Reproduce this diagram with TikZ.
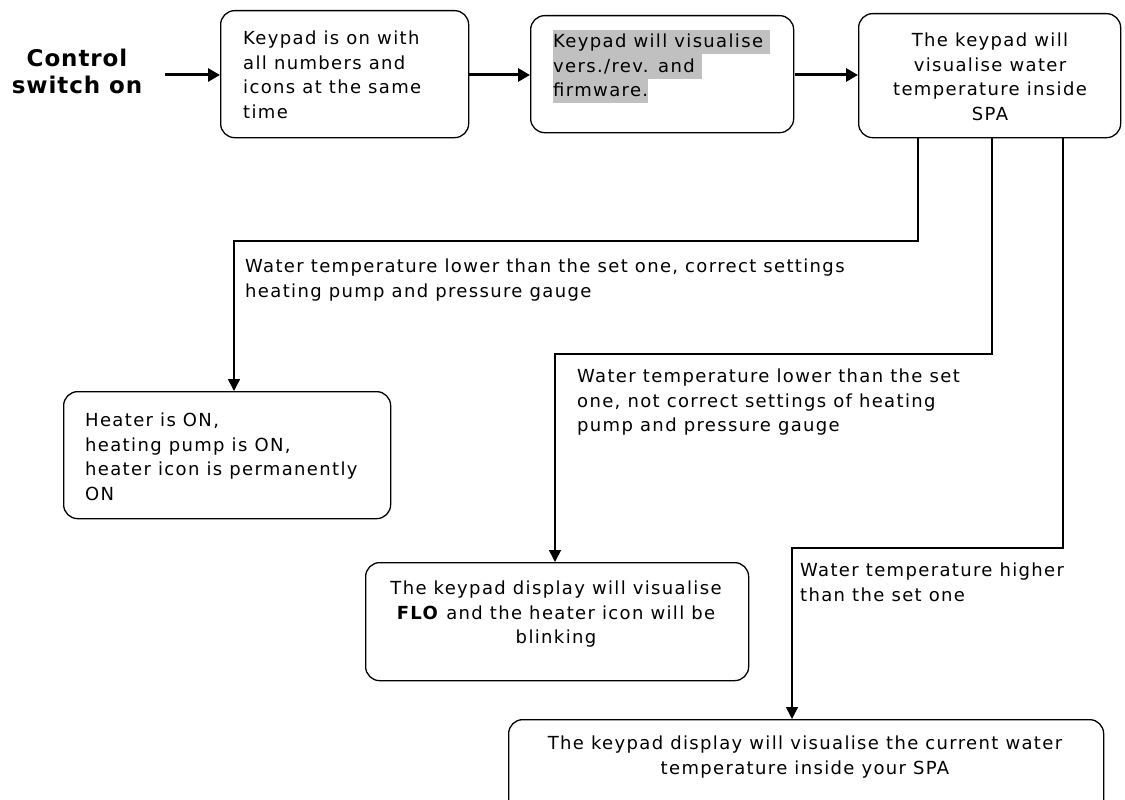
\documentclass[tikz,border=0pt]{standalone}
\usepackage{fontspec}
\setmainfont{DejaVu Sans}[LetterSpace=7.5]
\newfontfamily\ctrlfont{DejaVu Sans Bold}[LetterSpace=4]
\usetikzlibrary{arrows.meta}
\definecolor{hlgray}{HTML}{C0C0C0}
\newcommand\hlline[1]{{\setlength{\fboxsep}{0pt}\colorbox{hlgray}{\rule[-6.5pt]{0pt}{24.5pt}#1}}}
\tikzset{
  box/.style={draw, line width=1.3pt, rounded corners=14pt, anchor=north west, inner sep=0pt},
  txt/.style={inner sep=0pt, font=\fontsize{18}{24.5}\selectfont},
  bigarrow/.style={line width=3pt, -{Triangle[length=12pt,width=13pt]}},
  branch/.style={line width=1.6pt, -{Triangle[length=12pt,width=12pt]}},
}
\begin{document}
\begin{tikzpicture}[x=1pt,y=-1pt]
\useasboundingbox (0,0) rectangle (1125,800);
\clip (0,0) rectangle (1125,800);

% boxes
\node[box, minimum width=248pt, minimum height=127pt] (b1) at (220,10) {};
\node[box, minimum width=263pt, minimum height=117pt] (b2) at (530,15) {};
\node[box, minimum width=262pt, minimum height=124pt] (b3) at (858,13) {};
\node[box, minimum width=327pt, minimum height=127pt] (b4) at (63,391) {};
\node[box, minimum width=383pt, minimum height=118pt] (b5) at (365,562) {};
\node[box, minimum width=595pt, minimum height=120pt] (b6) at (508,719) {};

% texts
\node[inner sep=0pt, align=center, anchor=north, font=\ctrlfont\fontsize{23}{27}\selectfont] (ctrl) at (77,49)
  {Control\\switch on};
\node[txt, align=left, anchor=north west] (t1) at (243,31)
  {Keypad is on with\\all numbers and\\icons at the same\\time};
\node[txt, align=left, anchor=north west] (t2) at (553,29.5)
  {\hlline{Keypad will visualise }\\\hlline{vers./rev. and }\\\hlline{firmware.}};
\node[txt, align=center, anchor=north] (t3) at (990,33)
  {The keypad will\\visualise water\\temperature inside\\SPA};
\node[txt, align=left, anchor=north west] (t4) at (85,413)
  {Heater is ON,\\heating pump is ON,\\heater icon is permanently\\ON};
\node[txt, align=center, anchor=north] (t5) at (556,581)
  {The keypad display will visualise\\\textbf{FLO} and the heater icon will be\\blinking};
\node[txt, align=center, anchor=north] (t6) at (805,736)
  {The keypad display will visualise the current water\\temperature inside your SPA};

% branch labels
\node[txt, align=left, anchor=north west] (l1) at (245,259)
  {Water temperature lower than the set one, correct settings\\heating pump and pressure gauge};
\node[txt, align=left, anchor=north west] (l2) at (577,369)
  {Water temperature lower than the set\\one, not correct settings of heating\\pump and pressure gauge};
\node[txt, align=left, anchor=north west] (l3) at (800,563)
  {Water temperature higher\\than the set one};

% top arrows
\coordinate (s0) at (165,75);
\draw[bigarrow] (s0) -- (s0 -| b1.west);
\coordinate (s1) at (468,75);
\draw[bigarrow] (s1) -- (s1 -| b2.west);
\coordinate (s2) at (795,75);
\draw[bigarrow] (s2) -- (s2 -| b3.west);

% branches
\coordinate (k1) at (918,241);
\coordinate (k1b) at (234,241);
\draw[branch] (b3.south -| k1) -- (k1) -- (k1b) -- (b4.north -| k1b);
\coordinate (k2) at (992,354);
\coordinate (k2b) at (555,354);
\draw[branch] (b3.south -| k2) -- (k2) -- (k2b) -- (b5.north -| k2b);
\coordinate (k3) at (1063,548);
\coordinate (k3b) at (792,548);
\draw[branch] (b3.south -| k3) -- (k3) -- (k3b) -- (b6.north -| k3b);
\end{tikzpicture}
\end{document}
